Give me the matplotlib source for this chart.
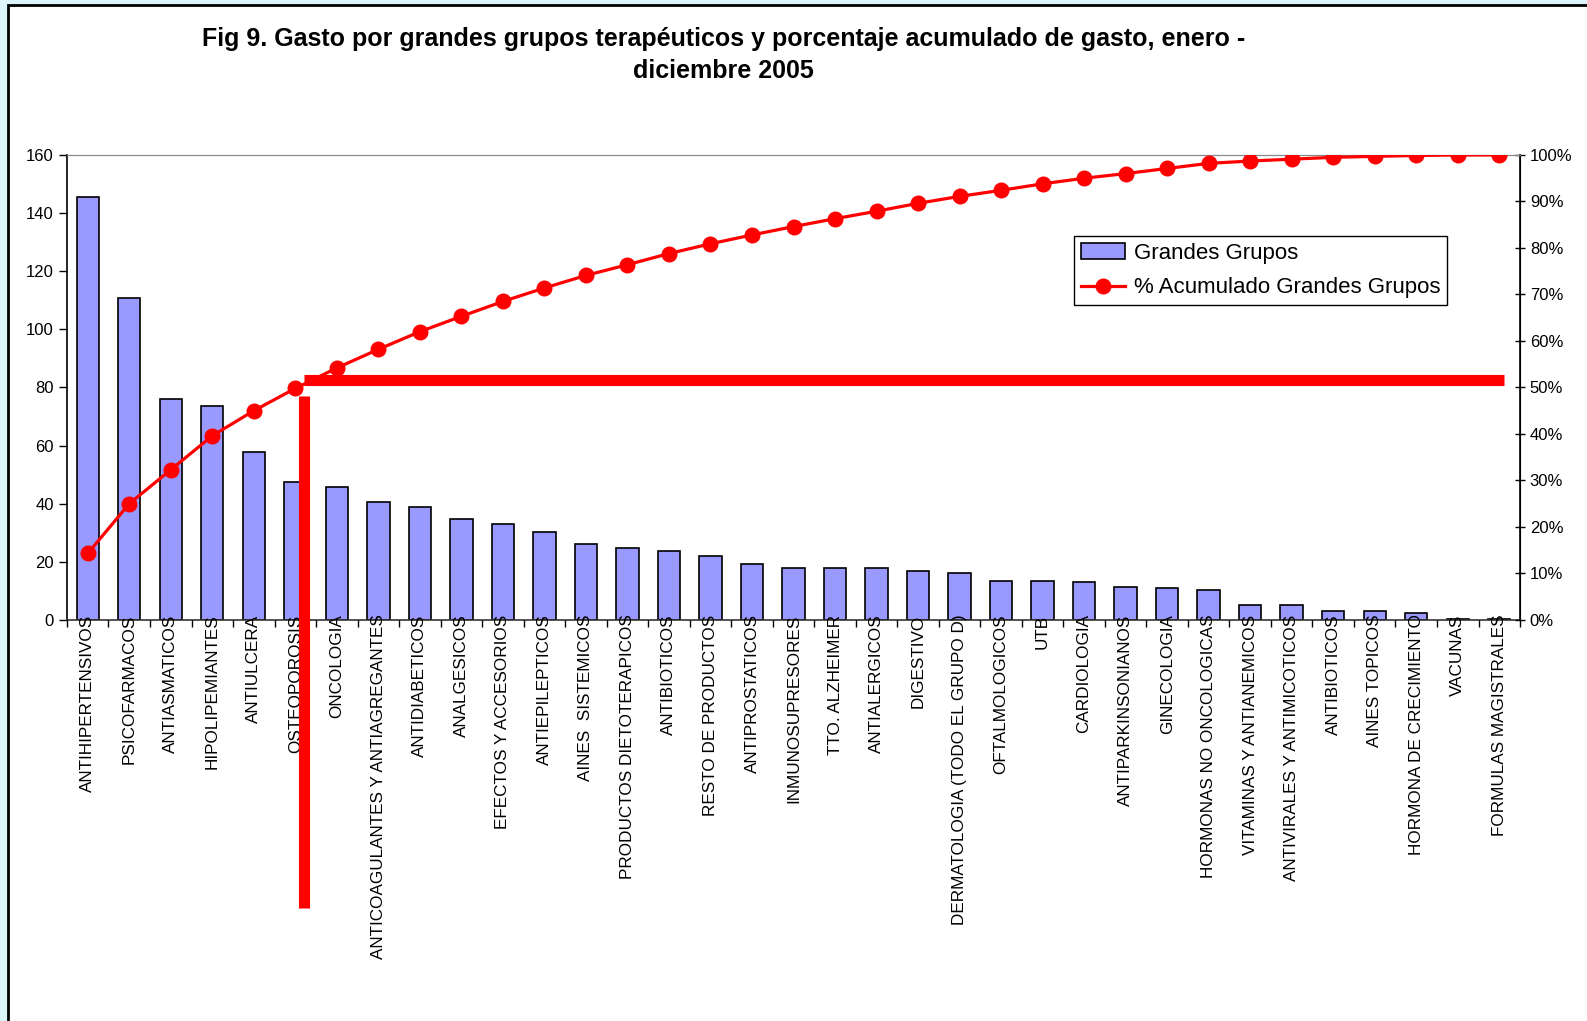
import numpy as np
import matplotlib
matplotlib.use("Agg")
import matplotlib.pyplot as plt
from matplotlib.lines import Line2D
from matplotlib.patches import Rectangle

plt.rcParams['font.family'] = ['Liberation Sans', 'DejaVu Sans']

grupos = ["ANTIHIPERTENSIVOS", "PSICOFARMACOS", "ANTIASMATICOS", "HIPOLIPEMIANTES",
          "ANTIULCERA", "OSTEOPOROSIS", "ONCOLOGIA", "ANTICOAGULANTES Y ANTIAGREGANTES",
          "ANTIDIABETICOS", "ANALGESICOS", "EFECTOS Y ACCESORIOS", "ANTIEPILEPTICOS",
          "AINES  SISTEMICOS", "PRODUCTOS DIETOTERAPICOS", "ANTIBIOTICOS",
          "RESTO DE PRODUCTOS", "ANTIPROSTATICOS", "INMUNOSUPRESORES", "TTO. ALZHEIMER",
          "ANTIALERGICOS", "DIGESTIVO", "DERMATOLOGIA (TODO EL GRUPO D)", "OFTALMOLOGICOS",
          "UTB", "CARDIOLOGIA", "ANTIPARKINSONIANOS", "GINECOLOGIA",
          "HORMONAS NO ONCOLOGICAS", "VITAMINAS Y ANTIANEMICOS",
          "ANTIVIRALES Y ANTIMICOTICOS", "ANTIBIOTICOS", "AINES TOPICOS",
          "HORMONA DE CRECIMIENTO", "VACUNAS", "FORMULAS MAGISTRALES"]

gasto = [145.4, 110.7, 76.2, 73.5, 57.8, 47.5, 45.8, 40.5, 38.9, 34.6, 32.9, 30.1,
         26.2, 24.8, 23.8, 22.1, 19.3, 17.9, 17.9, 17.9, 16.8, 16.1, 13.3, 13.3,
         13.0, 11.2, 10.9, 10.2, 5.3, 5.3, 3.2, 3.2, 2.5, 0.4, 0.4]

acumulado = [14.3, 25.0, 32.3, 39.6, 45.0, 49.8, 54.2, 58.2, 62.0, 65.3, 68.5, 71.4,
             74.1, 76.4, 78.8, 80.9, 82.8, 84.6, 86.3, 87.9, 89.6, 91.1, 92.4, 93.8,
             95.0, 96.0, 97.1, 98.2, 98.7, 99.1, 99.5, 99.7, 99.9, 100.0, 100.0]

x = np.arange(len(grupos))

fig = plt.figure(figsize=(15.87, 10.21), dpi=100)
fig.patch.set_facecolor('white')
# marco exterior
fig.patches.append(Rectangle((0, 0), 1, 1, transform=fig.transFigure,
                             facecolor='#dcf4fc', edgecolor='none', zorder=-3))
fig.patches.append(Rectangle((7.5/1587, -0.01), 1.1, 1 - 4.5/1021 + 0.01,
                             transform=fig.transFigure, facecolor='white',
                             edgecolor='black', linewidth=2, zorder=-2))

ax = fig.add_axes([0.0422, 0.3928, 0.9156, 0.4554])
ax.bar(x, gasto, width=0.54, color='#9999ff', edgecolor='black', linewidth=1.2,
       label='Grandes Grupos', zorder=1)
ax.xaxis.set_zorder(3)
ax.set_xlim(-0.5, len(grupos) - 0.5)
ax.set_ylim(0, 160)
ax.set_yticks(range(0, 161, 20))
ax.set_xticks(x)
ax.set_xticklabels(grupos, rotation=90, fontsize=12.3, va='top')
ax.set_xticks(np.arange(-0.5, len(grupos), 1), minor=True)
ax.tick_params(axis='x', which='major', length=0, pad=-4)
ax.tick_params(axis='x', which='minor', length=5, direction='out', width=1)
ax.tick_params(axis='y', labelsize=12, length=6, width=1, direction='out')
ax.spines['top'].set_color('#888888')
ax.spines['left'].set_linewidth(1.2)
ax.spines['bottom'].set_color('#333333')
ax.spines['bottom'].set_linewidth(1.2)

ax2 = ax.twinx()
ax2.plot(x, acumulado, color='#ff0000', linewidth=2.3, marker='o', markersize=10.5,
         label='% Acumulado Grandes Grupos', zorder=3)
ax2.set_ylim(0, 100)
ax2.set_yticks(range(0, 101, 10))
ax2.set_yticklabels([f"{v}%" for v in range(0, 101, 10)])
ax2.tick_params(axis='y', labelsize=12, length=7, width=1, direction='inout')
ax2.spines['right'].set_linewidth(1.2)
ax2.spines['top'].set_color('#888888')
ax2.spines['left'].set_visible(False)
ax2.spines['bottom'].set_visible(False)

# corte del 50% del gasto
ax2.add_line(Line2D([5.21, 5.21], [-0.619, 0.482], transform=ax2.get_xaxis_transform(),
                    color='#ff0000', linewidth=8, solid_capstyle='butt',
                    clip_on=False, zorder=5))
ax2.add_line(Line2D([5.21, 34.12], [0.516, 0.516], transform=ax2.get_xaxis_transform(),
                    color='#ff0000', linewidth=8, solid_capstyle='butt',
                    clip_on=False, zorder=5))

h1, l1 = ax.get_legend_handles_labels()
h2, l2 = ax2.get_legend_handles_labels()
leg = ax2.legend(h1 + h2, l1 + l2, loc='upper right', bbox_to_anchor=(0.95, 0.826),
                 fontsize=16, frameon=True, fancybox=False, framealpha=1,
                 edgecolor='black', handlelength=2.0, borderpad=0.3,
                 labelspacing=0.62, handletextpad=0.4, borderaxespad=0)
leg.get_frame().set_linewidth(1.0)

fig.text(0.456, 0.946,
         "Fig 9. Gasto por grandes grupos terapéuticos y porcentaje acumulado de gasto, enero -\ndiciembre 2005",
         ha='center', va='center', fontsize=18, fontweight='bold', linespacing=1.4)

fig.savefig('out.png', dpi=100)
